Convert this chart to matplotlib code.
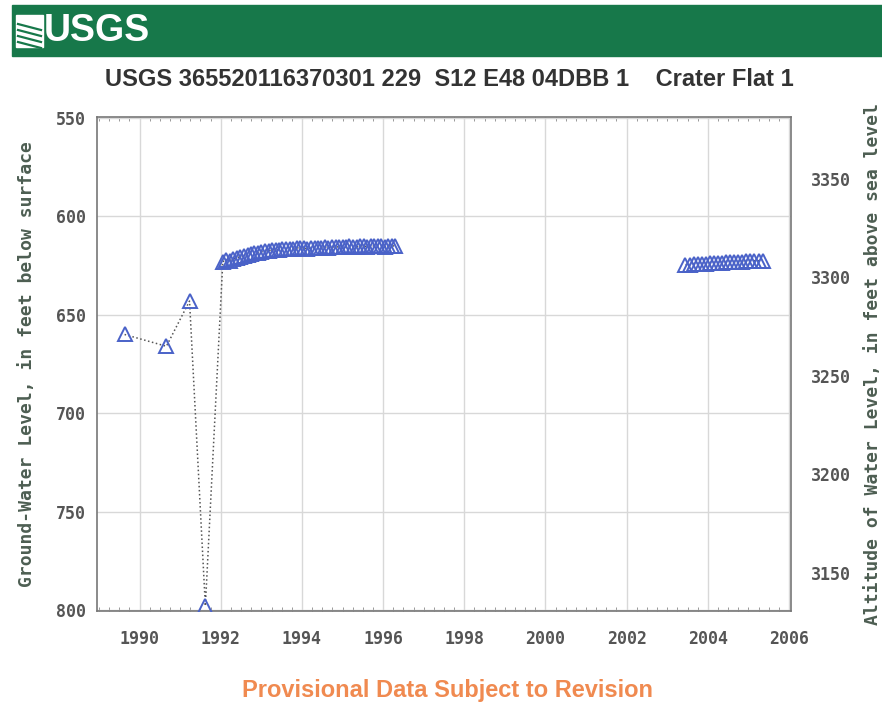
import matplotlib.pyplot as plt
from matplotlib.patches import Rectangle
from matplotlib.ticker import MultipleLocator

# Decimal-year dates and depth to water (feet below land surface)
fechas_inicio = [1989.63, 1990.66, 1991.23, 1991.62]
niveles_inicio = [660, 666, 643, 798]

fechas_a = [1992.05, 1992.14, 1992.22, 1992.31, 1992.40, 1992.48, 1992.57, 1992.66,
            1992.74, 1992.83, 1992.92, 1993.00, 1993.09, 1993.18, 1993.26, 1993.35,
            1993.44, 1993.52, 1993.61, 1993.70, 1993.78, 1993.87, 1993.96, 1994.05,
            1994.13, 1994.22, 1994.31, 1994.39, 1994.48, 1994.57, 1994.65, 1994.74,
            1994.83, 1994.91, 1995.00, 1995.09, 1995.17, 1995.26, 1995.35, 1995.43,
            1995.52, 1995.61, 1995.69, 1995.78, 1995.87, 1995.95, 1996.04, 1996.13,
            1996.21, 1996.30]
niveles_a = [623, 622, 622.5, 621.5, 621, 620.5, 620, 619.5,
             619, 618.5, 618.5, 618, 617.5, 617.5, 617, 617,
             617, 616.5, 616.5, 616.5, 616.5, 616, 616, 616,
             616.5, 616, 616, 616, 616, 615.5, 616, 615.5,
             615.5, 615.5, 615.5, 615.5, 615, 615.5, 615.5, 615,
             615, 615.5, 615, 615, 615, 615, 615.5, 615,
             615, 615]

fechas_b = [2003.45, 2003.55, 2003.65, 2003.75, 2003.85, 2003.95, 2004.05, 2004.15,
            2004.25, 2004.35, 2004.45, 2004.55, 2004.65, 2004.75, 2004.85, 2004.95,
            2005.05, 2005.15, 2005.25, 2005.35]
niveles_b = [624.5, 624.5, 624, 624, 624, 624, 623.5, 623.5,
             623.5, 623.5, 623, 623, 623, 623, 623, 622.5,
             622.5, 622.5, 622.5, 622.5]

elevacion = 3931  # land-surface altitude, feet
ticks_x = [1990, 1992, 1994, 1996, 1998, 2000, 2002, 2004, 2006]
ticks_y = [550, 600, 650, 700, 750, 800]
ticks_alt = [3150, 3200, 3250, 3300, 3350]

titulo = "USGS 365520116370301 229  S12 E48 04DBB 1    Crater Flat 1"
narrow = ["Liberation Sans Narrow", "Liberation Sans", "DejaVu Sans"]
mono = ["DejaVu Sans Mono"]

fig = plt.figure(figsize=(8.82, 7.09), dpi=100)

# green banner with a simple logo mark
verde = "#17784a"
fig.patches.append(Rectangle((12 / 882, 1 - 56 / 709), 870 / 882, 51 / 709,
                             transform=fig.transFigure, color=verde, zorder=0))
fig.patches.append(Rectangle((16 / 882, 1 - 47 / 709), 27 / 882, 32 / 709,
                             transform=fig.transFigure, color="white", zorder=1))
for k in range(4):
    y0 = 1 - (24 + 6 * k) / 709
    fig.add_artist(plt.Line2D([18 / 882, 41 / 882], [y0, y0 - 6 / 709],
                              transform=fig.transFigure, color=verde, linewidth=1.6))
fig.text(44 / 882, 1 - 31 / 709, "USGS", family=narrow, weight="bold", fontsize=27,
         color="white", va="center", ha="left")

fig.text(449 / 882, 1 - 80 / 709, titulo, family=narrow, weight="bold", fontsize=17,
         color="#333333", ha="center", va="center")
fig.text(448 / 882, 1 - 690 / 709, "Provisional Data Subject to Revision", family=narrow,
         weight="bold", fontsize=17, color="#f08a50", ha="center", va="center")

ax = fig.add_axes([97 / 882, 1 - 611 / 709, 694 / 882, 494 / 709])
ax.plot(fechas_inicio + fechas_a[:1], niveles_inicio + niveles_a[:1], linestyle=":",
        color="#555555", linewidth=1.1, zorder=2)
ax.plot(fechas_a, niveles_a, linestyle=":", color="#555555", linewidth=1.1, zorder=2)
ax.plot(fechas_b, niveles_b, linestyle=":", color="#555555", linewidth=1.1, zorder=2)
for xs, ys in [(fechas_inicio, niveles_inicio), (fechas_a, niveles_a), (fechas_b, niveles_b)]:
    ax.plot(xs, ys, linestyle="none", marker="^", markersize=10, markerfacecolor="none",
            markeredgecolor="#4a62c8", markeredgewidth=1.4, zorder=3)

ax.set_xlim(1988.95, 2006.05)
ax.set_ylim(800.5, 549.5)
ax.set_xticks(ticks_x)
ax.set_yticks(ticks_y)
ax.xaxis.set_minor_locator(MultipleLocator(0.25))
ax.grid(True, which="major", color="#d8d8d8", linewidth=1)
ax.tick_params(which="major", length=0, labelsize=12, labelcolor="#555555")
ax.tick_params(which="major", axis="x", pad=14)
ax.tick_params(which="major", axis="y", pad=8)
ax.tick_params(which="minor", axis="x", direction="in", top=True, bottom=True,
               length=3, color="#888888")
for lab in ax.get_xticklabels() + ax.get_yticklabels():
    lab.set_family(mono)
    lab.set_weight("bold")
for s in ax.spines.values():
    s.set_color("#777777")
    s.set_linewidth(1.2)
ax.set_ylabel("Ground-Water Level, in feet below surface", family=mono, fontsize=13,
              weight="bold", color="#4d5e52", labelpad=14)

ax2 = ax.twinx()
ax2.set_ylim(elevacion - 800.5, elevacion - 549.5)
ax2.set_yticks(ticks_alt)
ax2.tick_params(length=0, pad=14, labelsize=12, labelcolor="#555555")
for lab in ax2.get_yticklabels():
    lab.set_family(mono)
    lab.set_weight("bold")
for s in ax2.spines.values():
    s.set_visible(False)
ax2.set_ylabel("Altitude of Water Level, in feet above sea level", family=mono,
               fontsize=13, weight="bold", color="#4d5e52", labelpad=10)

fig.savefig("out.png", dpi=100)
